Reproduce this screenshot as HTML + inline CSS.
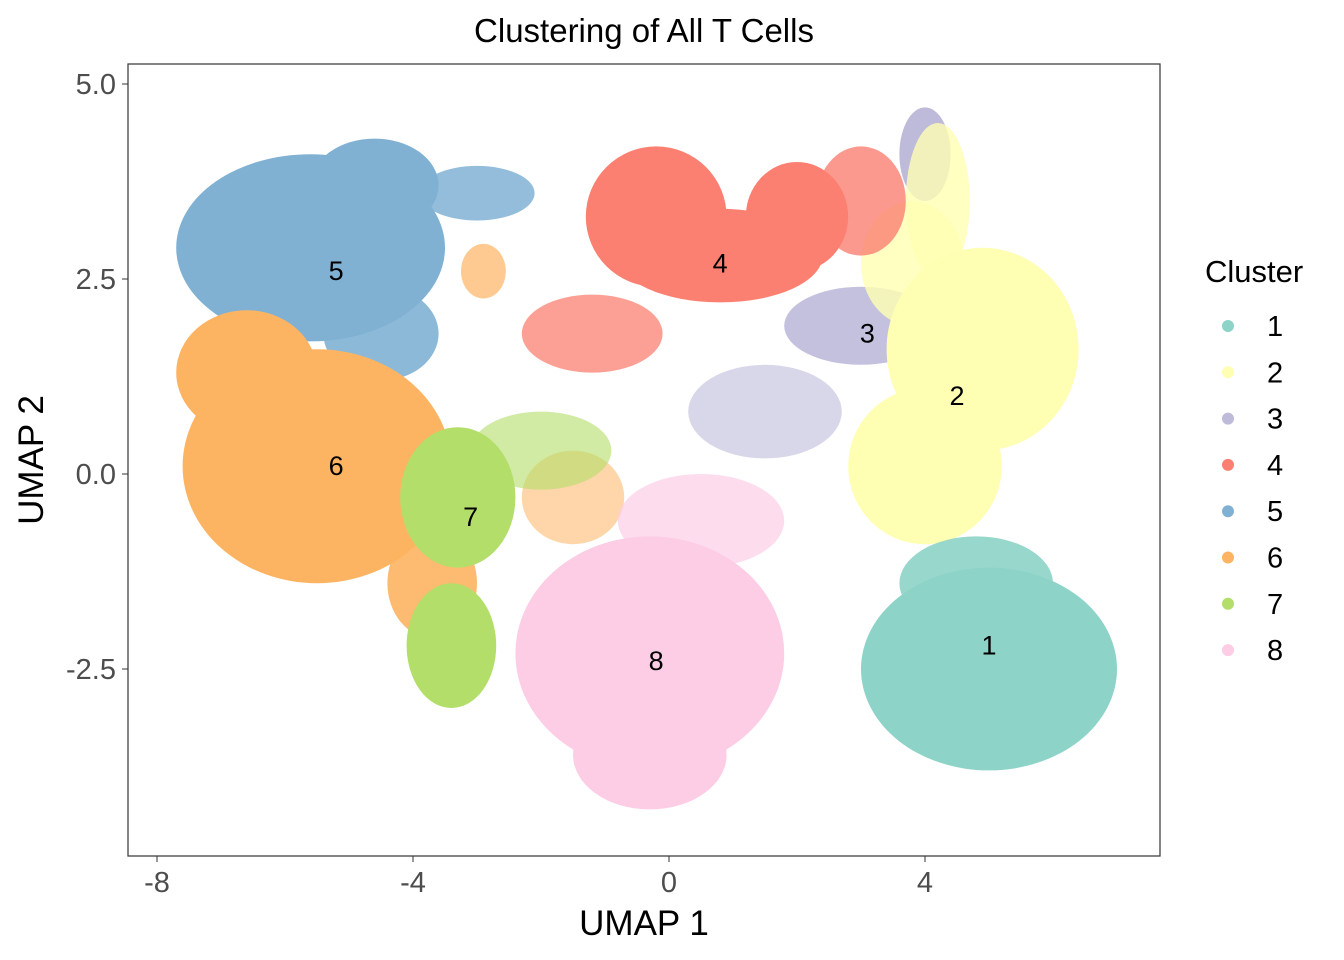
<!DOCTYPE html>
<html><head><meta charset="utf-8"><style>
body{margin:0;background:#fff;}
svg{display:block;font-family:"Liberation Sans",sans-serif;}
</style></head><body>
<svg id="chart" width="1344" height="960">
<text x="644" y="42" text-anchor="middle" font-size="33">Clustering of All T Cells</text>
<g id="plot"></g>
<rect x="128" y="64" width="1032" height="792" fill="none" stroke="#333" stroke-width="1.2"/>
<g id="axes"></g>
<text x="644" y="935" text-anchor="middle" font-size="35">UMAP 1</text>
<text transform="translate(43,460) rotate(-90)" text-anchor="middle" font-size="35">UMAP 2</text>
<g id="legend">
<text x="1205" y="282" font-size="31">Cluster</text>
</g>
</svg>
<script>
const clusters=["1","2","3","4","5","6","7","8"];
const colors=["#8DD3C7","#FFFFB3","#BEBADA","#FB8072","#80B1D3","#FDB462","#B3DE69","#FCCDE5"];
// blobs per cluster: [cx, cy, rx, ry, density] in UMAP units
const blobs1=[[5.0,-2.5,2.0,1.3,1],[4.8,-1.4,1.2,0.6,0.9]];
const blobs2=[[4.9,1.6,1.5,1.3,1],[4.0,0.1,1.2,1.0,1],[4.2,3.5,0.5,1.0,0.8],[3.8,2.7,0.8,0.8,0.8]];
const blobs3=[[3.0,1.9,1.2,0.5,0.9],[4.0,4.1,0.4,0.6,1],[1.5,0.8,1.2,0.6,0.6],[4.6,-1.6,0.5,0.3,0.8]];
const blobs4=[[-0.2,3.3,1.1,0.9,1],[2.0,3.3,0.8,0.7,1],[0.8,2.8,1.6,0.6,1],[-1.2,1.8,1.1,0.5,0.75],[3.0,3.5,0.7,0.7,0.8]];
const blobs5=[[-5.6,2.9,2.1,1.2,1],[-3.0,3.6,0.9,0.35,0.85],[-4.5,1.8,0.9,0.6,0.9],[-4.6,3.7,1.0,0.6,1]];
const blobs6=[[-5.5,0.1,2.1,1.5,1],[-6.6,1.3,1.1,0.8,1],[-3.7,-1.4,0.7,0.7,0.9],[-2.9,2.6,0.35,0.35,0.7],[-1.5,-0.3,0.8,0.6,0.55]];
const blobs7=[[-3.3,-0.3,0.9,0.9,1],[-3.4,-2.2,0.7,0.8,1],[-2.0,0.3,1.1,0.5,0.6]];
const blobs8=[[-0.3,-2.3,2.1,1.5,1],[-0.3,-3.6,1.2,0.7,1],[0.5,-0.6,1.3,0.6,0.7]];
const allBlobs=[blobs1,blobs2,blobs3,blobs4,blobs5,blobs6,blobs7,blobs8];
const labelX=[5.0,4.5,3.1,0.8,-5.2,-5.2,-3.1,-0.2];
const labelY=[-2.2,1.0,1.8,2.7,2.6,0.1,-0.55,-2.4];
const xTicks=[-8,-4,0,4];
const yTicks=[5.0,2.5,0.0,-2.5];
const yTickLabels=["5.0","2.5","0.0","-2.5"];
const order=[2,1,0,3,4,5,6,7];
const NS="http://www.w3.org/2000/svg";
const sx=v=>669+v*64;
const sy=v=>474-v*78;
const plot=document.getElementById('plot');
order.forEach(i=>{
  allBlobs[i].forEach(b=>{
    const e=document.createElementNS(NS,'ellipse');
    e.setAttribute('cx',sx(b[0]));e.setAttribute('cy',sy(b[1]));
    e.setAttribute('rx',b[2]*64);e.setAttribute('ry',b[3]*78);
    e.setAttribute('fill',colors[i]);
    e.setAttribute('fill-opacity',b[4]);
    
    
    plot.appendChild(e);
  });
});
clusters.forEach((c,i)=>{
  const t=document.createElementNS(NS,'text');
  t.setAttribute('x',sx(labelX[i]));t.setAttribute('y',sy(labelY[i])+9);
  t.setAttribute('text-anchor','middle');t.setAttribute('font-size','27');
  t.textContent=c;
  
  
  plot.appendChild(t);
});
const axes=document.getElementById('axes');
xTicks.forEach(v=>{
  const l=document.createElementNS(NS,'line');
  l.setAttribute('x1',sx(v));l.setAttribute('x2',sx(v));l.setAttribute('y1',856);l.setAttribute('y2',862);l.setAttribute('stroke','#333');
  
  
  axes.appendChild(l);
  const t=document.createElementNS(NS,'text');
  t.setAttribute('x',sx(v));t.setAttribute('y',892);t.setAttribute('text-anchor','middle');t.setAttribute('font-size','29');t.setAttribute('fill','#4d4d4d');
  t.textContent=v;
  
  
  axes.appendChild(t);
});
yTicks.forEach((v,i)=>{
  const l=document.createElementNS(NS,'line');
  l.setAttribute('x1',122);l.setAttribute('x2',128);l.setAttribute('y1',sy(v));l.setAttribute('y2',sy(v));l.setAttribute('stroke','#333');
  
  
  axes.appendChild(l);
  const t=document.createElementNS(NS,'text');
  t.setAttribute('x',116);t.setAttribute('y',sy(v)+10);t.setAttribute('text-anchor','end');t.setAttribute('font-size','29');t.setAttribute('fill','#4d4d4d');
  t.textContent=yTickLabels[i];
  
  
  axes.appendChild(t);
});
const legend=document.getElementById('legend');
clusters.forEach((c,i)=>{
  const y=326+i*46.3;
  const d=document.createElementNS(NS,'circle');
  d.setAttribute('cx',1228);d.setAttribute('cy',y);d.setAttribute('r',6);d.setAttribute('fill',colors[i]);
  
  
  legend.appendChild(d);
  const t=document.createElementNS(NS,'text');
  t.setAttribute('x',1267);t.setAttribute('y',y+10);t.setAttribute('font-size','29');
  t.textContent=c;
  
  
  legend.appendChild(t);
});
</script>
</body></html>
